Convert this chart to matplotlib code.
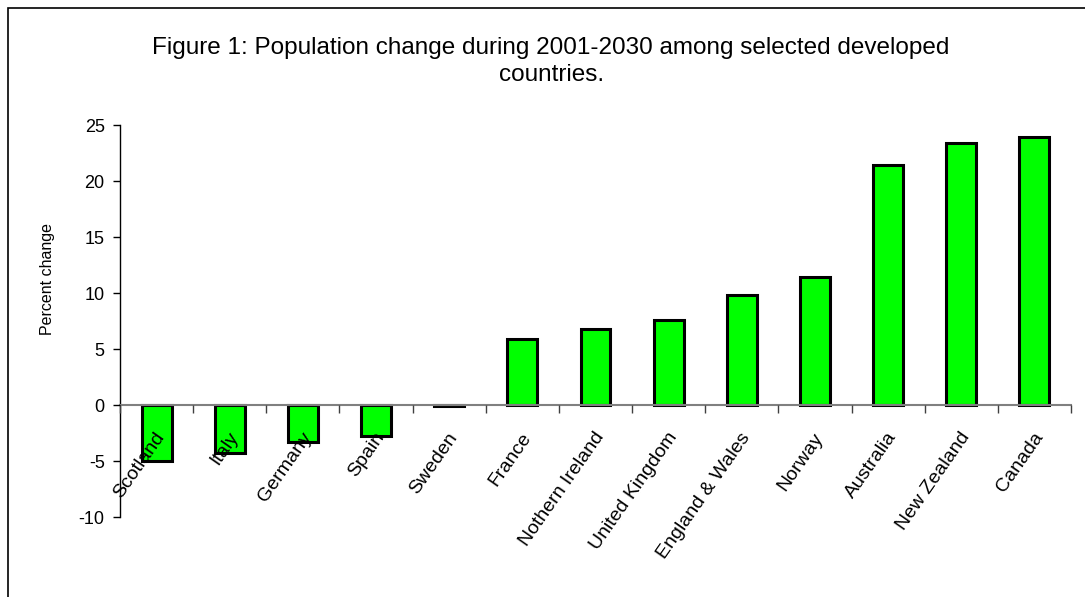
import numpy as np
import matplotlib
matplotlib.use('Agg')
import matplotlib.pyplot as plt
import matplotlib.transforms as mtransforms
from matplotlib.patches import Rectangle
from matplotlib.ticker import FixedLocator, NullFormatter

plt.rcParams['font.family'] = ['Liberation Sans', 'DejaVu Sans']

# projected population change 2001-2030, percent
countries = ['Scotland', 'Italy', 'Germany', 'Spain', 'Sweden', 'France',
             'Nothern Ireland', 'United Kingdom', 'England & Wales', 'Norway',
             'Australia', 'New Zealand', 'Canada']
change = [-5.0, -4.3, -3.3, -2.8, -0.1, 5.9, 6.8, 7.6, 9.8, 11.4, 21.4, 23.4, 23.9]

yticks = [-10, -5, 0, 5, 10, 15, 20, 25]

fig = plt.figure(figsize=(10.85, 5.97), dpi=100)
ax = fig.add_axes([0.1106, 0.134, 0.8765, 0.6566])
ax.set_axisbelow(False)  # category names are drawn over the bars

x = np.arange(len(countries))
ax.bar(x, change, width=0.41, color='#00ff00', edgecolor='black', linewidth=2.2, zorder=1)

ax.set_xlim(-0.5, len(countries) - 0.5)
ax.set_ylim(-10, 25)
ax.set_yticks(yticks)
ax.set_yticklabels([str(v) for v in yticks], fontsize=13)

# category axis sits on zero, ticks between categories
ax.spines['bottom'].set_position(('data', 0))
ax.spines['bottom'].set_color('#808080')
ax.spines['bottom'].set_linewidth(1.5)
ax.spines['top'].set_visible(False)
ax.spines['right'].set_visible(False)
ax.spines['left'].set_linewidth(1.0)

ax.xaxis.set_major_locator(FixedLocator(np.arange(len(countries) + 1) - 0.5))
ax.xaxis.set_major_formatter(NullFormatter())
ax.xaxis.set_minor_locator(FixedLocator(x))
ax.set_xticklabels(countries, minor=True, rotation=55, ha='right', va='center',
                   rotation_mode='anchor', fontsize=14)
ax.tick_params(axis='x', which='major', direction='out', length=6, width=1, color='#404040')
ax.tick_params(axis='x', which='minor', length=0, pad=21)
ax.tick_params(axis='y', direction='out', length=5, width=1, pad=6)

shift = mtransforms.ScaledTranslation(5 / 100, 0, fig.dpi_scale_trans)
for lbl in ax.get_xticklabels(minor=True):
    lbl.set_transform(lbl.get_transform() + shift)

ax.set_ylabel('Percent change', fontsize=11.5)
ax.yaxis.set_label_coords(-0.068, 0.607)

fig.text(0.508, 0.897, 'Figure 1: Population change during 2001-2030 among selected developed\ncountries.',
         ha='center', va='center', fontsize=17.5, linespacing=1.35)

# chart area frame
fig.patches.append(Rectangle((8 / 1085, -0.1), 1.2, 1 - 8 / 597 + 0.1, transform=fig.transFigure,
                             fill=False, edgecolor='black', linewidth=1.2))

fig.savefig('out.png', dpi=100)
